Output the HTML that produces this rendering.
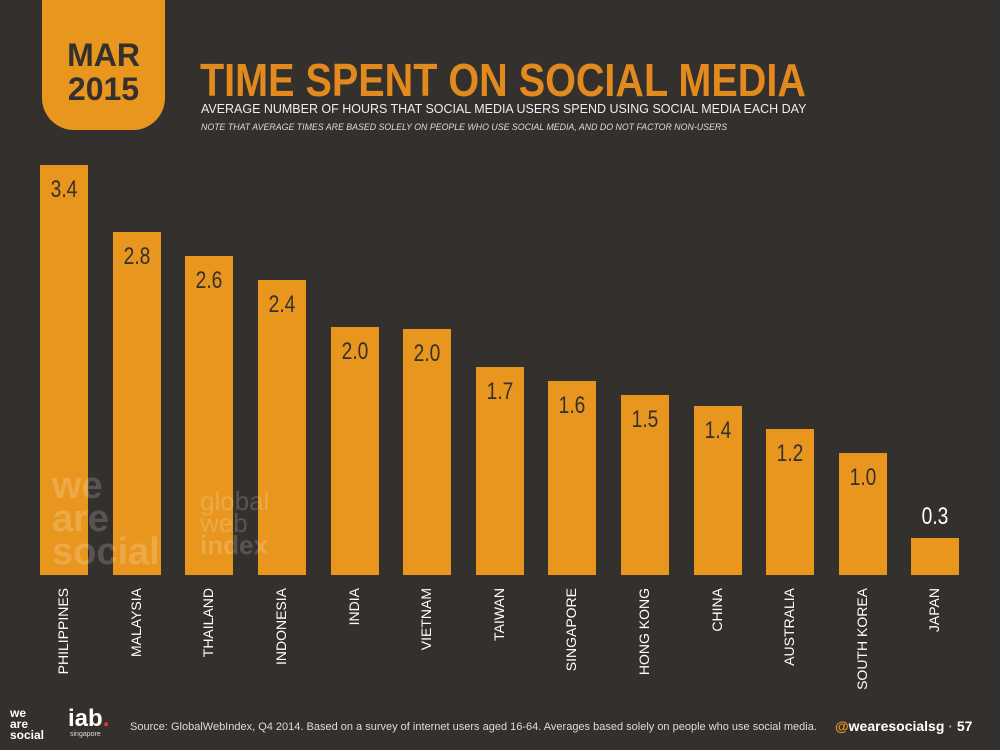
<!DOCTYPE html>
<html><head><meta charset="utf-8"><style>
body{margin:0;width:1000px;height:750px;background:#33302d;position:relative;overflow:hidden;font-family:"Liberation Sans",sans-serif}
.badge{position:absolute;left:42px;top:0;width:123px;height:130px;background:#e8961e;border-radius:0 0 32px 32px;text-align:center;color:#33302d;font-weight:bold;font-size:32px;line-height:34px;padding-top:38px;box-sizing:border-box}
.title{position:absolute;left:200px;top:53px;font-size:46px;font-weight:bold;color:#e38a1f;white-space:nowrap;transform:scaleX(0.86);transform-origin:left}
.sub{position:absolute;left:201px;top:101px;font-size:13px;color:#eee;white-space:nowrap;transform:scaleX(0.96);transform-origin:left}
.note{position:absolute;left:201px;top:122px;font-size:9px;color:#ddd;font-style:italic;white-space:nowrap;transform:scaleX(0.977);transform-origin:left}
.bar{position:absolute;width:48px;background:#e8961e;bottom:175px}
.val{position:absolute;width:48px;text-align:center;font-size:24px;color:#33302d;transform:scaleX(0.8)}
.lab{position:absolute;top:588px;font-size:14px;color:#fff;writing-mode:vertical-rl;transform:rotate(180deg)}
.foot{position:absolute;top:721px;font-size:11px;color:#ddd}
.wm{position:absolute;color:rgba(255,255,255,0.18);font-weight:bold;font-size:38px;line-height:33px}
</style></head><body>
<div class="badge">MAR<br>2015</div>
<div class="title">TIME SPENT ON SOCIAL MEDIA</div>
<div class="sub">AVERAGE NUMBER OF HOURS THAT SOCIAL MEDIA USERS SPEND USING SOCIAL MEDIA EACH DAY</div>
<div class="note">NOTE THAT AVERAGE TIMES ARE BASED SOLELY ON PEOPLE WHO USE SOCIAL MEDIA, AND DO NOT FACTOR NON-USERS</div>

<div class="bar" style="left:40px;top:165px"></div><div class="val" style="left:40px;top:176px">3.4</div>
<div class="bar" style="left:113px;top:232px"></div><div class="val" style="left:113px;top:243px">2.8</div>
<div class="bar" style="left:185px;top:256px"></div><div class="val" style="left:185px;top:267px">2.6</div>
<div class="bar" style="left:258px;top:280px"></div><div class="val" style="left:258px;top:291px">2.4</div>
<div class="bar" style="left:331px;top:327px"></div><div class="val" style="left:331px;top:338px">2.0</div>
<div class="bar" style="left:403px;top:329px"></div><div class="val" style="left:403px;top:340px">2.0</div>
<div class="bar" style="left:476px;top:367px"></div><div class="val" style="left:476px;top:378px">1.7</div>
<div class="bar" style="left:548px;top:381px"></div><div class="val" style="left:548px;top:392px">1.6</div>
<div class="bar" style="left:621px;top:395px"></div><div class="val" style="left:621px;top:406px">1.5</div>
<div class="bar" style="left:694px;top:406px"></div><div class="val" style="left:694px;top:417px">1.4</div>
<div class="bar" style="left:766px;top:429px"></div><div class="val" style="left:766px;top:440px">1.2</div>
<div class="bar" style="left:839px;top:453px"></div><div class="val" style="left:839px;top:464px">1.0</div>
<div class="bar" style="left:911px;top:538px"></div><div class="val" style="left:911px;top:503px;color:#fff">0.3</div>

<div class="wm" style="left:52px;top:470px">we<br>are<br>social</div>
<div class="wm" style="left:200px;top:490px;font-size:26px;line-height:22px;font-weight:normal">global<br>web<br><b>index</b></div>

<div class="lab" style="left:55px">PHILIPPINES</div>
<div class="lab" style="left:128px">MALAYSIA</div>
<div class="lab" style="left:200px">THAILAND</div>
<div class="lab" style="left:273px">INDONESIA</div>
<div class="lab" style="left:346px">INDIA</div>
<div class="lab" style="left:418px">VIETNAM</div>
<div class="lab" style="left:491px">TAIWAN</div>
<div class="lab" style="left:563px">SINGAPORE</div>
<div class="lab" style="left:636px">HONG KONG</div>
<div class="lab" style="left:709px">CHINA</div>
<div class="lab" style="left:781px">AUSTRALIA</div>
<div class="lab" style="left:854px">SOUTH KOREA</div>
<div class="lab" style="left:926px">JAPAN</div>

<div style="position:absolute;left:10px;top:708px;color:#fff;font-weight:bold;font-size:12px;line-height:11px">we<br>are<br>social</div>
<div style="position:absolute;left:68px;top:707px;color:#fff;font-weight:bold;font-size:24px;line-height:24px">iab<span style="color:#e33">.</span></div>
<div style="position:absolute;left:70px;top:731px;color:#ddd;font-size:7px">singapore</div>
<div class="foot" style="left:130px">Source: GlobalWebIndex, Q4 2014. Based on a survey of internet users aged 16-64. Averages based solely on people who use social media.</div>
<div class="foot" style="left:835px;top:718px;font-size:14px;font-weight:bold;color:#fff"><span style="color:#e8961e">@</span>wearesocialsg <span style="color:#e8961e">·</span> 57</div>
</body></html>
